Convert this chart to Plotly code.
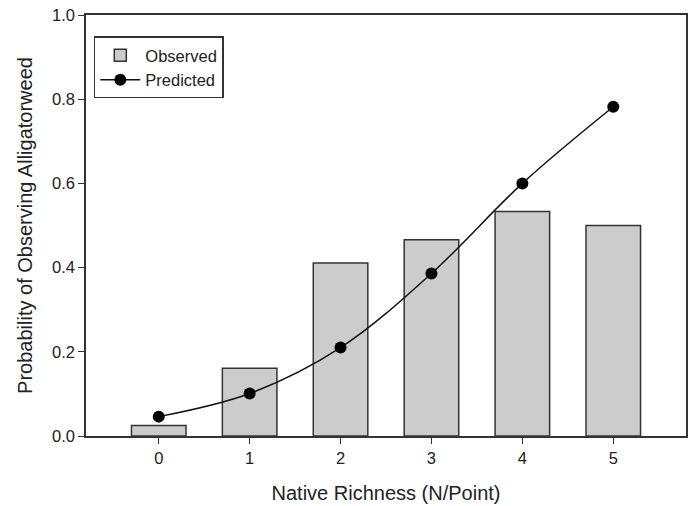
import plotly.graph_objects as go

richness = [0, 1, 2, 3, 4, 5]
observed = [0.025, 0.161, 0.411, 0.466, 0.533, 0.500]
predicted = [0.046, 0.101, 0.210, 0.386, 0.600, 0.782]
y_ticks = [0.0, 0.2, 0.4, 0.6, 0.8, 1.0]
y_tick_labels = ["0.0", "0.2", "0.4", "0.6", "0.8", "1.0"]

FONT = "Liberation Sans, Arial"

fig = go.Figure()
fig.add_trace(go.Bar(
    x=richness, y=observed, name="Observed", width=0.6,
    marker=dict(color="#cccccc", line=dict(color="#333333", width=1.5)),
))
fig.add_trace(go.Scatter(
    x=richness, y=predicted, name="Predicted", mode="lines+markers",
    line=dict(color="#111111", width=1.5, shape="spline"),
    marker=dict(color="#000000", size=12),
))

axis_common = dict(
    showline=True, linecolor="#333333", linewidth=1.5, mirror=True,
    ticks="outside", ticklen=6, tickcolor="#333333", tickwidth=1,
    showgrid=False, zeroline=False, automargin=False,
    tickfont=dict(family=FONT, size=16.5, color="#222222"),
)
fig.update_xaxes(range=[-0.8, 5.8], tickvals=richness,
                 title=dict(text="Native Richness (N/Point)", standoff=20,
                            font=dict(family=FONT, size=20, color="#222222")),
                 **axis_common)
fig.update_yaxes(range=[0, 1.0], tickvals=y_ticks, ticktext=y_tick_labels,
                 title=dict(text="Probability of Observing Alligatorweed", standoff=14,
                            font=dict(family=FONT, size=20, color="#222222")),
                 **axis_common)

fig.update_layout(
    width=691, height=506,
    margin=dict(l=86, r=5, t=15, b=70),
    plot_bgcolor="white", paper_bgcolor="white",
    showlegend=True,
    legend=dict(x=0.013, y=0.949, xanchor="left", yanchor="top",
                bordercolor="#333333", borderwidth=1.5, bgcolor="white",
                font=dict(family=FONT, size=16.5, color="#222222"),
                entrywidth=130, entrywidthmode="pixels",
                itemwidth=40, tracegroupgap=0),
    bargap=0.4,
)

fig.write_html("out.html", config={"displayModeBar": False},
               post_script="document.body.style.margin='0';document.body.style.overflow='hidden';")
